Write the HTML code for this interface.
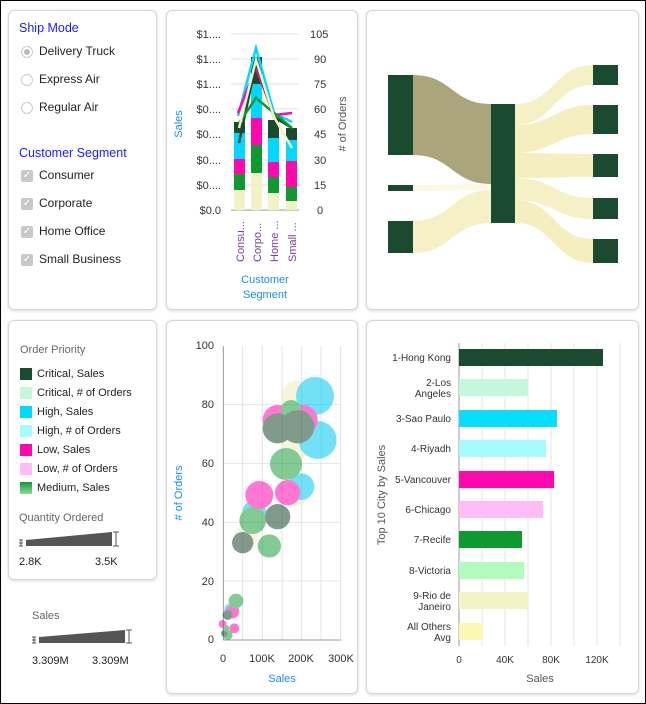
<!DOCTYPE html>
<html><head><meta charset="utf-8"><style>
body{margin:0;width:646px;height:704px;overflow:hidden;background:#fff;font-family:"Liberation Sans",sans-serif;}
.frame{position:absolute;left:0;top:0;width:644px;height:702px;border:1px solid #000;}
.p{position:absolute;background:#fff;border:1px solid #d6d6d6;border-radius:6px;box-shadow:0 1px 3px rgba(0,0,0,.15);}
.t{position:absolute;font-size:12px;color:#222;white-space:nowrap;}
.h{position:absolute;font-size:12.5px;color:#1a1aff;font-weight:normal;}
.rad{position:absolute;width:10px;height:10px;border-radius:50%;border:1px solid #ccc;background:#fff;}
.chk{position:absolute;width:12px;height:12px;background:#c8c8c8;border-radius:2px;color:#fff;font-size:10px;line-height:12px;text-align:center;}
.sw{position:absolute;width:12px;height:12px;}
svg{position:absolute;left:0;top:0;}
</style></head><body>
<div class="frame"></div>
<div class="p" style="left:8px;top:10px;width:147px;height:298px"></div>
<div class="p" style="left:166px;top:10px;width:190px;height:298px"></div>
<div class="p" style="left:366px;top:10px;width:271px;height:298px"></div>
<div class="p" style="left:8px;top:320px;width:147px;height:258px"></div>
<div class="p" style="left:166px;top:320px;width:190px;height:372px"></div>
<div class="p" style="left:366px;top:320px;width:271px;height:372px"></div>

<div class="h" style="left:19px;top:21px">Ship Mode</div>
<div class="rad" style="left:21px;top:46px"><div style="margin:2px;width:6px;height:6px;border-radius:50%;background:#bbb"></div></div>
<div class="t" style="left:39px;top:44px">Delivery Truck</div>
<div class="rad" style="left:21px;top:74px"></div><div class="t" style="left:39px;top:72px">Express Air</div>
<div class="rad" style="left:21px;top:102px"></div><div class="t" style="left:39px;top:100px">Regular Air</div>
<div class="h" style="left:19px;top:146px">Customer Segment</div>
<div class="chk" style="left:21px;top:170px">✓</div><div class="t" style="left:39px;top:168px">Consumer</div>
<div class="chk" style="left:21px;top:198px">✓</div><div class="t" style="left:39px;top:196px">Corporate</div>
<div class="chk" style="left:21px;top:226px">✓</div><div class="t" style="left:39px;top:224px">Home Office</div>
<div class="chk" style="left:21px;top:254px">✓</div><div class="t" style="left:39px;top:252px">Small Business</div>

<div class="t" style="left:20px;top:344px;color:#666;font-size:11px">Order Priority</div>
<div class="sw" style="left:20px;top:368px;background:#1a4a30"></div><div class="t" style="left:37px;top:368px;font-size:11px">Critical, Sales</div>
<div class="sw" style="left:20px;top:387px;background:#c4f7dc"></div><div class="t" style="left:37px;top:387px;font-size:11px">Critical, # of Orders</div>
<div class="sw" style="left:20px;top:406px;background:#00d8ff"></div><div class="t" style="left:37px;top:406px;font-size:11px">High, Sales</div>
<div class="sw" style="left:20px;top:425px;background:#a6fbff"></div><div class="t" style="left:37px;top:425px;font-size:11px">High, # of Orders</div>
<div class="sw" style="left:20px;top:444px;background:#ff09ae"></div><div class="t" style="left:37px;top:444px;font-size:11px">Low, Sales</div>
<div class="sw" style="left:20px;top:463px;background:#ffbdf8"></div><div class="t" style="left:37px;top:463px;font-size:11px">Low, # of Orders</div>
<div class="sw" style="left:20px;top:482px;background:linear-gradient(#0e9a2e,#8fd8a0)"></div><div class="t" style="left:37px;top:482px;font-size:11px">Medium, Sales</div>
<div class="t" style="left:19px;top:512px;color:#666;font-size:11px">Quantity Ordered</div>
<div class="t" style="left:19px;top:556px;font-size:11px">2.8K</div>
<div class="t" style="left:95px;top:556px;font-size:11px">3.5K</div>
<div class="t" style="left:32px;top:610px;color:#666;font-size:11px">Sales</div>
<div class="t" style="left:32px;top:655px;font-size:11px">3.309M</div>
<div class="t" style="left:92px;top:655px;font-size:11px">3.309M</div>

<svg width="646" height="704" font-family="Liberation Sans, sans-serif">
<polygon points="26,540 112,532 112,546 26,546" fill="#555"/>
<path d="M19,543h4M21,540v6M19,540h4M19,546h4" stroke="#555" fill="none"/>
<path d="M116,532v14M113,532h6M113,546h6" stroke="#555" fill="none"/>
<polygon points="39,637 125,630 125,643 39,643" fill="#555"/>
<path d="M32,640h4M34,637v6M32,637h4M32,643h4" stroke="#555" fill="none"/>
<path d="M129,630v13M126,630h6M126,643h6" stroke="#555" fill="none"/>

<g stroke="#dde0e6" stroke-width="1">
<line x1="231" y1="34" x2="299" y2="34"/><line x1="231" y1="59" x2="299" y2="59"/><line x1="231" y1="84" x2="299" y2="84"/><line x1="231" y1="109" x2="299" y2="109"/><line x1="231" y1="134" x2="299" y2="134"/><line x1="231" y1="160" x2="299" y2="160"/><line x1="231" y1="185" x2="299" y2="185"/>
</g>
<line x1="231" y1="210" x2="299" y2="210" stroke="#999"/>
<g font-size="11" fill="#333" text-anchor="end">
<text x="221" y="38">$1....</text><text x="221" y="63">$1....</text><text x="221" y="88">$1....</text><text x="221" y="113">$0....</text><text x="221" y="138">$0....</text><text x="221" y="164">$0....</text><text x="221" y="189">$0....</text><text x="221" y="214">$0.0</text>
</g>
<g font-size="11" fill="#333">
<text x="310" y="38">105</text><text x="314" y="63">90</text><text x="314" y="88">75</text><text x="314" y="113">60</text><text x="314" y="138">45</text><text x="314" y="164">30</text><text x="314" y="189">15</text><text x="317" y="214">0</text>
</g>
<text transform="translate(182,124) rotate(-90)" font-size="11" fill="#1a8fe0" text-anchor="middle">Sales</text>
<text transform="translate(346,124) rotate(-90)" font-size="11" fill="#555" text-anchor="middle"># of Orders</text>
<g font-size="11" fill="#7a3fa0">
<text transform="translate(244,262) rotate(-90)">Consu...</text>
<text transform="translate(261,262) rotate(-90)">Corpo...</text>
<text transform="translate(278,262) rotate(-90)">Home ...</text>
<text transform="translate(296,262) rotate(-90)">Small ...</text>
</g>
<text x="265" y="283" font-size="11" fill="#1a8fe0" text-anchor="middle">Customer</text>
<text x="265" y="298" font-size="11" fill="#1a8fe0" text-anchor="middle">Segment</text>
<g>
<rect x="234" y="190" width="11" height="20" fill="#f3f1c6"/><rect x="234" y="174" width="11" height="16" fill="#0e9a2e"/><rect x="234" y="159" width="11" height="15" fill="#ff09ae"/><rect x="234" y="133" width="11" height="26" fill="#00d8ff"/><rect x="234" y="122" width="11" height="11" fill="#1a4a30"/>
<rect x="251" y="173" width="11" height="37" fill="#f3f1c6"/><rect x="251" y="145" width="11" height="28" fill="#0e9a2e"/><rect x="251" y="118" width="11" height="27" fill="#ff09ae"/><rect x="251" y="84" width="11" height="34" fill="#00d8ff"/><rect x="251" y="57" width="11" height="27" fill="#1a4a30"/>
<rect x="268" y="193" width="11" height="17" fill="#f3f1c6"/><rect x="268" y="177" width="11" height="16" fill="#0e9a2e"/><rect x="268" y="162" width="11" height="15" fill="#ff09ae"/><rect x="268" y="138" width="11" height="24" fill="#00d8ff"/><rect x="268" y="120" width="11" height="18" fill="#1a4a30"/>
<rect x="286" y="201" width="11" height="9" fill="#f3f1c6"/><rect x="286" y="187" width="11" height="14" fill="#0e9a2e"/><rect x="286" y="161" width="11" height="26" fill="#ff09ae"/><rect x="286" y="140" width="11" height="21" fill="#00d8ff"/><rect x="286" y="128" width="11" height="12" fill="#1a4a30"/>
</g>
<g fill="none" stroke-width="2.5">
<polyline points="238,116 256,48 274,113 292,122" stroke="#00d8ff"/>
<polyline points="238,113 256,68 274,115 292,113" stroke="#ff09ae"/>
<polyline points="239,143 256,63 274,117 292,128" stroke="#1a4a30"/>
<polyline points="239,123 256,98 274,113 292,128" stroke="#0e9a2e"/>
<polyline points="239,128 256,60 274,117 292,148" stroke="#f3f1c6"/>
</g>

<g>
<path d="M413,75 C452,75 452,104 491,104 L491,184 C452,184 452,155 413,155Z" fill="#aba57c"/>
<path d="M413,185 C452,185 452,184 491,184 L491,190 C452,190 452,191 413,191Z" fill="#fbf9e2"/>
<path d="M413,221 C452,221 452,190 491,190 L491,223 C452,223 452,253 413,253Z" fill="#f5f0c6"/>
<path d="M515,104 C554,104 554,65 593,65 L593,85 C554,85 554,125 515,125Z" fill="#f5f0c6"/>
<path d="M515,125 C554,125 554,105 593,105 L593,134 C554,134 554,153 515,153Z" fill="#f5efbf"/>
<path d="M515,153 C554,153 554,154 593,154 L593,177 C554,177 554,178 515,178Z" fill="#f5efbf"/>
<path d="M515,178 C554,178 554,198 593,198 L593,219 C554,219 554,200 515,200Z" fill="#f5f0c6"/>
<path d="M515,200 C554,200 554,239 593,239 L593,263 C554,263 554,223 515,223Z" fill="#f5efbf"/>
<g fill="#1a4a30">
<rect x="388" y="75" width="25" height="80"/><rect x="388" y="185" width="25" height="6"/><rect x="388" y="221" width="25" height="32"/>
<rect x="491" y="104" width="24" height="119"/>
<rect x="593" y="65" width="25" height="20"/><rect x="593" y="105" width="25" height="29"/><rect x="593" y="154" width="25" height="23"/><rect x="593" y="198" width="25" height="21"/><rect x="593" y="239" width="25" height="24"/>
</g>
</g>

<g transform="translate(166,320) scale(0.33333)">
<g stroke="#e2e4ea" stroke-width="3">
<line x1="230" y1="78" x2="230" y2="960"/><line x1="289" y1="78" x2="289" y2="960"/><line x1="348" y1="78" x2="348" y2="960"/><line x1="407" y1="78" x2="407" y2="960"/><line x1="465" y1="78" x2="465" y2="960"/><line x1="524" y1="78" x2="524" y2="960"/>
<line x1="172" y1="254" x2="524" y2="254"/><line x1="172" y1="430" x2="524" y2="430"/><line x1="172" y1="607" x2="524" y2="607"/><line x1="172" y1="783" x2="524" y2="783"/>
</g>
<line x1="172" y1="78" x2="172" y2="960" stroke="#999" stroke-width="3"/>
<line x1="172" y1="960" x2="524" y2="960" stroke="#999" stroke-width="3"/>
<g opacity="0.55">
<circle cx="395" cy="232" r="50" fill="#f0eec0"/><circle cx="390" cy="375" r="45" fill="#f0eec0"/><circle cx="390" cy="518" r="40" fill="#f0eec0"/><circle cx="240" cy="650" r="35" fill="#f0eec0"/>
<circle cx="447" cy="228" r="57" fill="#00c8f0"/><circle cx="455" cy="360" r="57" fill="#00c8f0"/><circle cx="405" cy="500" r="40" fill="#00c8f0"/><circle cx="265" cy="575" r="35" fill="#00c8f0"/><circle cx="195" cy="870" r="20" fill="#00c8f0"/>
<circle cx="280" cy="525" r="42" fill="#ff09ae"/><circle cx="365" cy="518" r="38" fill="#ff09ae"/><circle cx="335" cy="300" r="45" fill="#ff09ae"/><circle cx="410" cy="300" r="45" fill="#ff09ae"/><circle cx="200" cy="875" r="20" fill="#ff09ae"/><circle cx="205" cy="925" r="15" fill="#ff09ae"/><circle cx="170" cy="912" r="12" fill="#ff09ae"/>
<circle cx="360" cy="432" r="48" fill="#20a040"/><circle cx="260" cy="602" r="40" fill="#20a040"/><circle cx="310" cy="678" r="35" fill="#20a040"/><circle cx="210" cy="843" r="22" fill="#20a040"/><circle cx="185" cy="945" r="15" fill="#20a040"/><circle cx="375" cy="270" r="30" fill="#20a040"/>
<circle cx="335" cy="325" r="45" fill="#1a4a30"/><circle cx="395" cy="320" r="50" fill="#1a4a30"/><circle cx="335" cy="590" r="38" fill="#1a4a30"/><circle cx="230" cy="668" r="32" fill="#1a4a30"/><circle cx="185" cy="885" r="15" fill="#1a4a30"/><circle cx="175" cy="940" r="10" fill="#1a4a30"/><circle cx="180" cy="925" r="10" fill="#20a040"/>
</g>
</g>
<g font-size="11" fill="#333" text-anchor="end">
<text x="214" y="349">100</text><text x="214" y="408">80</text><text x="214" y="467">60</text><text x="214" y="526">40</text><text x="214" y="585">20</text><text x="214" y="643">0</text>
</g>
<g font-size="11" fill="#333" text-anchor="middle">
<text x="223" y="662">0</text><text x="262" y="662">100K</text><text x="301" y="662">200K</text><text x="341" y="662">300K</text>
</g>
<text transform="translate(182,493) rotate(-90)" font-size="11" fill="#1a8fe0" text-anchor="middle"># of Orders</text>
<text x="282" y="682" font-size="11" fill="#1a8fe0" text-anchor="middle">Sales</text>

<g stroke="#e2e4ea">
<line x1="482" y1="343" x2="482" y2="646"/><line x1="505" y1="343" x2="505" y2="646"/><line x1="528" y1="343" x2="528" y2="646"/><line x1="551" y1="343" x2="551" y2="646"/><line x1="574" y1="343" x2="574" y2="646"/><line x1="597" y1="343" x2="597" y2="646"/><line x1="620" y1="343" x2="620" y2="646"/>
</g>
<line x1="459" y1="343" x2="459" y2="646" stroke="#999"/>
<g>
<rect x="459" y="349" width="144" height="17" fill="#1a4a30"/>
<rect x="459" y="379" width="69" height="17" fill="#c4f7dc"/>
<rect x="459" y="410" width="98" height="17" fill="#08dcff"/>
<rect x="459" y="440" width="87" height="17" fill="#a6fbff"/>
<rect x="459" y="471" width="95" height="17" fill="#ff09ae"/>
<rect x="459" y="501" width="84" height="17" fill="#ffbdf8"/>
<rect x="459" y="531" width="63" height="17" fill="#0e9a2e"/>
<rect x="459" y="562" width="65" height="17" fill="#b0fcbc"/>
<rect x="459" y="592" width="69" height="17" fill="#f3f1c6"/>
<rect x="459" y="623" width="24" height="17" fill="#fbf8b4"/>
</g>
<g font-size="10" fill="#333" text-anchor="end">
<text x="451" y="361">1-Hong Kong</text>
<text x="451" y="386">2-Los</text><text x="451" y="397">Angeles</text>
<text x="451" y="422">3-Sao Paulo</text>
<text x="451" y="452">4-Riyadh</text>
<text x="451" y="483">5-Vancouver</text>
<text x="451" y="513">6-Chicago</text>
<text x="451" y="543">7-Recife</text>
<text x="451" y="574">8-Victoria</text>
<text x="451" y="599">9-Rio de</text><text x="451" y="610">Janeiro</text>
<text x="451" y="630">All Others</text><text x="451" y="641">Avg</text>
</g>
<g font-size="10" fill="#333" text-anchor="middle">
<text x="459" y="663">0</text><text x="505" y="663">40K</text><text x="551" y="663">80K</text><text x="597" y="663">120K</text>
</g>
<text x="540" y="682" font-size="11" fill="#555" text-anchor="middle">Sales</text>
<text transform="translate(385,495) rotate(-90)" font-size="11" fill="#555" text-anchor="middle">Top 10 City by Sales</text>
</svg>
</body></html>
